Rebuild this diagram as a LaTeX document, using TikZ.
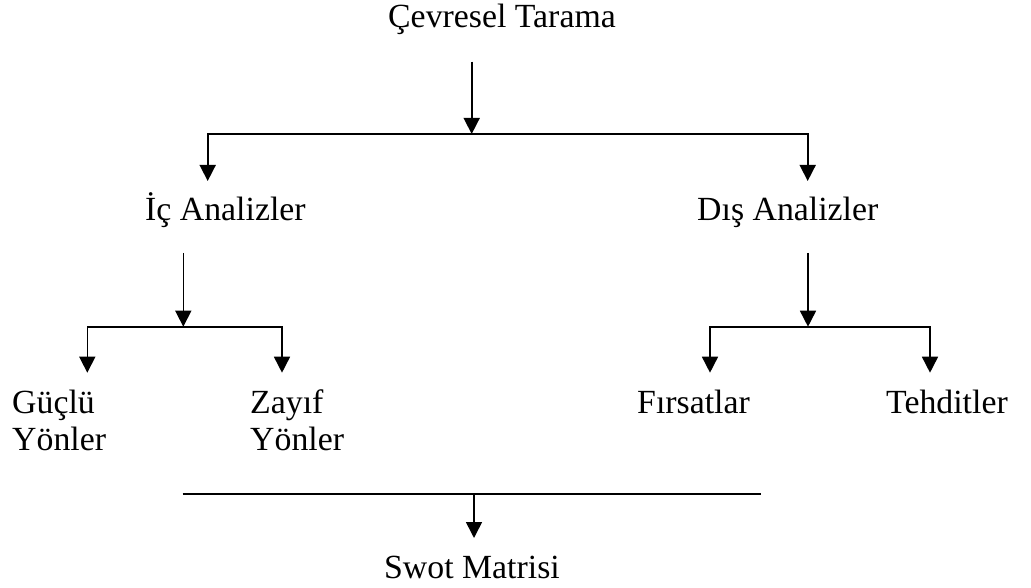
\documentclass[tikz,border=0pt]{standalone}
\usepackage{fontspec}
\setmainfont{Liberation Serif}
\usetikzlibrary{arrows.meta}
\begin{document}
\begin{tikzpicture}[x=1pt,y=-1pt,
  lbl/.style={font=\fontsize{33.8}{37}\selectfont, inner sep=0pt, anchor=base west},
  ln/.style={line width=1.6pt},
  arr/.style={ln,-{Triangle[length=16pt,width=16pt]}}]
\useasboundingbox (0,0) rectangle (1031,588);
% texts
\node[lbl] (cev) at (388,28) {Çevresel Tarama};
\node[lbl] (ic) at (145,221) {İç Analizler};
\node[lbl] (dis) at (697,221) {Dış Analizler};
\node[lbl] (guc1) at (12,413) {Güçlü};
\node[lbl] (guc2) at (12,450) {Yönler};
\node[lbl] (zay1) at (250,413) {Zayıf};
\node[lbl] (zay2) at (250,450) {Yönler};
\node[lbl] (fir) at (637,413) {Fırsatlar};
\node[lbl] (teh) at (886,413) {Tehditler};
\node[lbl] (swot) at (384,578) {Swot Matrisi};
% top level
\coordinate (s0) at (471.7,61.7);
\coordinate (j0) at (471.7,134);
\coordinate (t0l) at (207.7,181);
\coordinate (t0r) at (807.7,181);
\draw[arr] (s0) -- (j0);
\draw[arr] (j0) -| (t0l);
\draw[arr] (j0) -| (t0r);
% internal
\coordinate (s1) at (183.3,253);
\coordinate (j1) at (183.3,326.7);
\coordinate (t1l) at (87.3,372.7);
\coordinate (t1r) at (282,372.7);
\draw[arr] (s1) -- (j1);
\draw[arr] (j1) -| (t1l);
\draw[arr] (j1) -| (t1r);
% external
\coordinate (s2) at (808,253);
\coordinate (j2) at (808,326.7);
\coordinate (t2l) at (710,372.7);
\coordinate (t2r) at (930,372.7);
\draw[arr] (s2) -- (j2);
\draw[arr] (j2) -| (t2l);
\draw[arr] (j2) -| (t2r);
% bottom
\coordinate (bl) at (182.7,494);
\coordinate (br) at (760.7,494);
\coordinate (bm) at (474,494);
\coordinate (bt) at (474,538);
\draw[ln] (bl) -- (br);
\draw[arr] (bm) -- (bt);
\end{tikzpicture}
\end{document}
